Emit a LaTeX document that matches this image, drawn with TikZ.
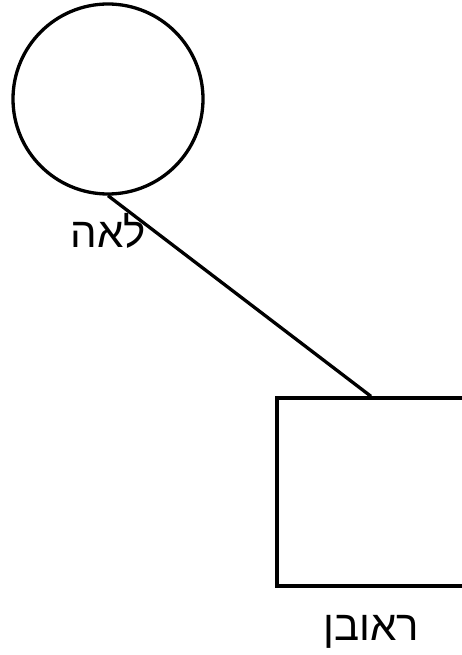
\documentclass[tikz,border=0pt]{standalone}
\usepackage{fontspec}
\TeXXeTstate=1
\newfontfamily\hebfont[Script=Hebrew]{Liberation Sans}
\begin{document}
\begin{tikzpicture}[x=1pt,y=-1pt,
  shapeline/.style={draw=black,line width=3.3pt},
  lbl/.style={font=\hebfont\fontsize{42}{48}\selectfont,anchor=base,inner sep=0pt}]
\useasboundingbox (0,0) rectangle (462,655);
\begin{scope}
\clip (0,0) rectangle (462,655);
\node[shapeline,circle,minimum size=190pt,inner sep=0pt] (lea) at (108,99) {};
\node[shapeline,rectangle,minimum width=188pt,minimum height=188pt,inner sep=0pt] (reuven) at (371,492) {};
\draw[shapeline] (lea.south) -- (reuven.north);
\end{scope}
\node[lbl] (lealbl) at (108,247) {\beginR לאה\endR};
\node[lbl] (reuvenlbl) at (371.5,640) {\beginR ראובן\endR};
\end{tikzpicture}
\end{document}
